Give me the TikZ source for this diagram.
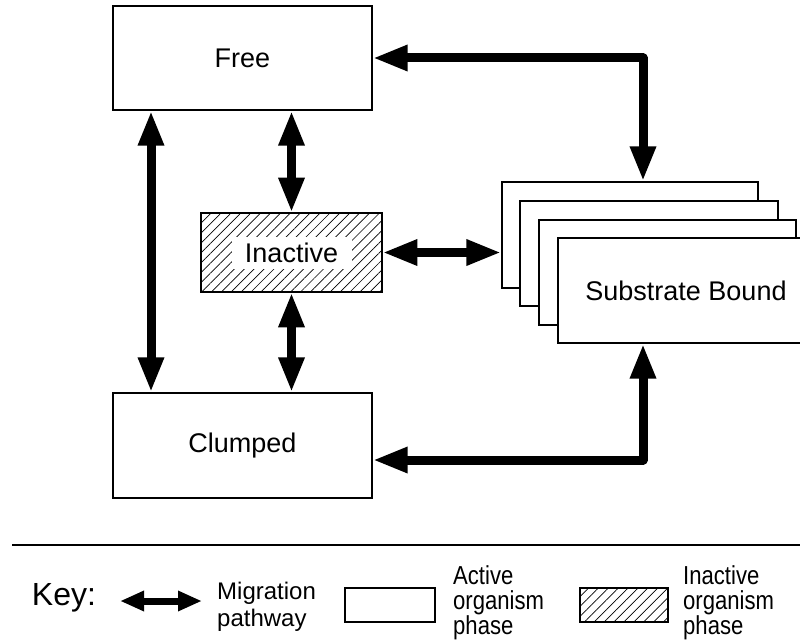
\documentclass[tikz,border=0pt]{standalone}
\usepackage{fontspec}
\setmainfont{Liberation Sans}
\newfontfamily\narrowfont[FakeStretch=0.85]{Liberation Sans}
\usetikzlibrary{arrows.meta,patterns.meta}
\begin{document}
\begin{tikzpicture}[x=1pt,y=-1pt,
  box/.style={draw, line width=1.3pt, fill=white, inner sep=0pt, font=\fontsize{27}{30}\selectfont},
  hatch/.style={draw, line width=1.3pt, inner sep=0pt, pattern={Lines[angle=45,distance=7pt,line width=0.7pt]}},
  mig/.style={line width=9pt, line join=round, {Triangle[length=35pt,width=24pt]}-{Triangle[length=35pt,width=24pt]}},
  keymig/.style={line width=7pt, {Triangle[length=24pt,width=19pt]}-{Triangle[length=24pt,width=19pt]}},
  keytext/.style={anchor=north west, align=left, inner sep=0pt, font=\narrowfont\fontsize{26}{25}\selectfont},
]
\useasboundingbox (0,0) rectangle (800,642);
% main boxes
\node[box, minimum width=259pt, minimum height=104pt] (Free) at (242.5,58) {Free};
\node[box, minimum width=259pt, minimum height=105pt] (Clumped) at (242.5,445.5) {Clumped};
\node[hatch, minimum width=181pt, minimum height=79pt] (Inactive) at (291.5,252.5) {};
\node[fill=white, inner sep=0pt, minimum width=120pt, minimum height=32pt, font=\fontsize{27}{30}\selectfont] (InactiveLabel) at (Inactive.center) {Inactive};
% substrate stack
\node[box, minimum width=256pt, minimum height=106pt] (sb1) at (630,235) {};
\node[box, minimum width=258pt, minimum height=105pt] (sb2) at (649,253.5) {};
\node[box, minimum width=257pt, minimum height=105pt] (sb3) at (667.5,272.5) {};
\node[box, minimum width=256pt, minimum height=105pt] (sb4) at (686,290.5) {Substrate Bound};
% connectors
\coordinate (c1) at (643,58);
\coordinate (c2) at (643,460);
\coordinate (vx) at (151,0);
\draw[mig] (Free.east) -- (c1) -- (c1 |- sb1.north);
\draw[mig] (Clumped.east |- c2) -- (c2) -- (c2 |- sb4.south);
\draw[mig] (Free.south -| vx) -- (Clumped.north -| vx);
\draw[mig] (Free.south -| Inactive.north) -- (Inactive.north);
\draw[mig] (Inactive.south) -- (Clumped.north -| Inactive.south);
\draw[mig] (Inactive.east) -- (Inactive.east -| sb1.west);
% key
\draw[line width=1.5pt] (12,545) -- (800,545);
\node[inner sep=0pt, font=\fontsize{32}{34}\selectfont] (Key) at (64,598) {Key:};
\coordinate (ka) at (120,601);
\coordinate (kb) at (202,601);
\draw[keymig] (ka) -- (kb);
\node[anchor=north west, align=left, inner sep=0pt, font=\fontsize{24}{27}\selectfont] (MigText) at (217,582) {Migration\\pathway};
\node[draw, line width=1.3pt, inner sep=0pt, minimum width=90pt, minimum height=34pt] (ActiveKey) at (390,605) {};
\node[keytext] (ActiveText) at (453,565) {Active\\organism\\phase};
\node[hatch, minimum width=88pt, minimum height=34pt] (InactiveKey) at (624,605) {};
\node[keytext] (InactiveText) at (683,565) {Inactive\\organism\\phase};
\end{tikzpicture}
\end{document}
